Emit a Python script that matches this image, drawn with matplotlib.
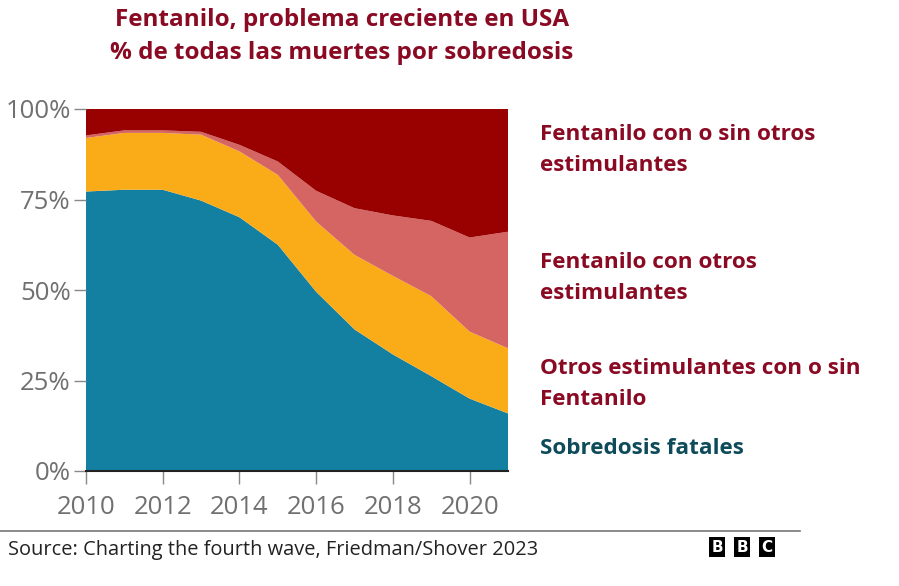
import matplotlib.pyplot as plt
from matplotlib.patches import Rectangle

# Datos (porcentaje acumulado de muertes por sobredosis)
years = [2010, 2011, 2012, 2013, 2014, 2015, 2016, 2017, 2018, 2019, 2020, 2021]
sin_fentanilo = [77.2, 77.7, 77.7, 74.7, 70.1, 62.5, 49.5, 39.1, 32.2, 26.2, 20.0, 15.9]
otros_estim = [14.8, 15.7, 15.7, 18.2, 18.2, 19.3, 19.4, 20.6, 21.7, 22.1, 18.5, 18.0]
fent_estim = [0.7, 0.7, 0.7, 0.8, 1.8, 3.7, 8.5, 12.9, 16.7, 20.8, 26.0, 32.2]
fent_resto = [7.3, 5.9, 5.9, 6.3, 9.9, 14.5, 22.6, 27.4, 29.4, 30.9, 35.5, 33.9]

colors = ['#1380A1', '#FAAB18', '#D46563', '#990000']
labels = ['Fentanilo con o sin otros\nestimulantes',
          'Fentanilo con otros\nestimulantes',
          'Otros estimulantes con o sin\nFentanilo',
          'Sobredosis fatales']
label_y = [88.8, 53.3, 24.0, 6.3]
label_colors = ['#8A0A24', '#8A0A24', '#8A0A24', '#0E4B5A']
source = 'Source: Charting the fourth wave, Friedman/Shover 2023'

fig = plt.figure(figsize=(8.99, 5.86), dpi=100)
ax = fig.add_axes([86 / 899, 1 - 471 / 586, 422 / 899, 362 / 586])

ax.stackplot(years, sin_fentanilo, otros_estim, fent_estim, fent_resto,
             colors=colors, linewidth=0)

ax.set_xlim(2010, 2021)
ax.set_ylim(0, 100)
ax.set_yticks([0, 25, 50, 75, 100])
ax.set_yticklabels(['0%', '25%', '50%', '75%', '100%'])
ax.set_xticks([2010, 2012, 2014, 2016, 2018, 2020])

for s in ['top', 'right', 'left']:
    ax.spines[s].set_visible(False)
ax.spines['bottom'].set_color('#222222')
ax.spines['bottom'].set_linewidth(1.5)

ax.tick_params(axis='both', colors='#888888', labelcolor='#707070',
               labelsize=18.5, length=9, width=1)
ax.tick_params(axis='y', pad=2)
ax.tick_params(axis='x', pad=8)
for t in ax.get_xticklabels() + ax.get_yticklabels():
    t.set_fontfamily('Open Sans')

# Etiquetas a la derecha
for txt, y, c in zip(labels, label_y, label_colors):
    ax.text(1.075, y / 100, txt, transform=ax.transAxes, fontsize=16.2,
            fontweight='bold', color=c, fontfamily='Open Sans',
            va='center', ha='left', linespacing=1.62)

# Título
fig.text(342 / 899, 1 - 20 / 586, 'Fentanilo, problema creciente en USA',
         ha='center', va='center', fontsize=17.5, fontweight='bold',
         color='#8A0A24', fontfamily='Open Sans')
fig.text(342 / 899, 1 - 53 / 586, '% de todas las muertes por sobredosis',
         ha='center', va='center', fontsize=17.5, fontweight='bold',
         color='#8A0A24', fontfamily='Open Sans')

# Pie
fig.add_artist(plt.Line2D([0, 800 / 899], [1 - 531 / 586, 1 - 531 / 586],
                          color='#777777', linewidth=1.2))
fig.text(8 / 899, 1 - 555 / 586, source, ha='left', va='baseline',
         fontsize=14.4, color='#222222', fontfamily='Open Sans')

for x0, letter in zip([709, 734, 759], 'BBC'):
    fig.add_artist(Rectangle((x0 / 899, 1 - 557 / 586), 16 / 899, 20 / 586,
                             transform=fig.transFigure, facecolor='black',
                             edgecolor='none'))
    fig.text((x0 + 8) / 899, 1 - 547 / 586, letter, ha='center', va='center',
             fontsize=11, fontweight='bold', color='white',
             fontfamily='DejaVu Sans')

fig.savefig('out.png', dpi=100)
